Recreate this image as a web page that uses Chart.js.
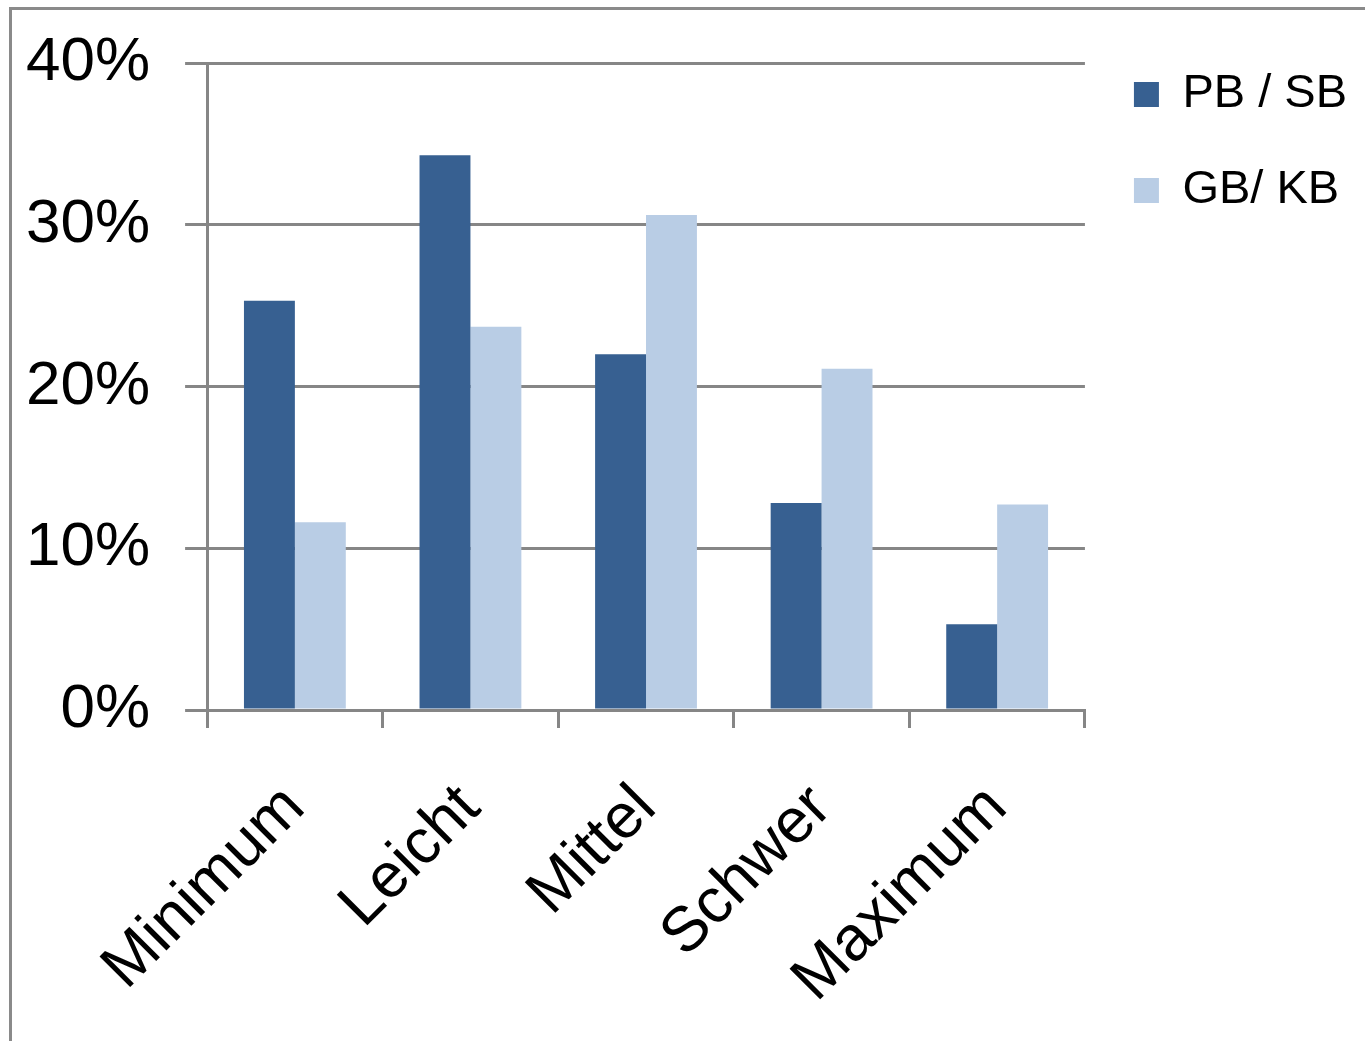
<!DOCTYPE html>
<html>
<head>
<meta charset="utf-8">
<script src="https://cdn.jsdelivr.net/npm/chart.js@4/dist/chart.umd.min.js"></script>
<style>
    html, body { margin: 0; padding: 0; background: #fff; overflow: hidden; }
    #frame {
        position: absolute; left: 9px; top: 7px; width: 2000px; height: 2000px;
        border-top: 3px solid #8a8a8a; border-left: 3px solid #8a8a8a;
    }
    #chart { position: absolute; left: 0; top: 0; }
</style>
</head>
<body>
<div id="frame"></div>
<canvas id="chart" width="1365" height="1041"></canvas>
<script>
// Categories and series (percent)
const categories = ['Minimum', 'Leicht', 'Mittel', 'Schwer', 'Maximum'];
const pbSb = [25.3, 34.3, 22.0, 12.8, 5.3];
const gbKb = [11.6, 23.7, 30.6, 21.1, 12.7];
const seriesNames = ['PB / SB', 'GB/ KB'];
const yTicks = [0, 10, 20, 30, 40];

const axisGray = '#868686';

Chart.defaults.font.family = '"Liberation Sans", Arial, sans-serif';
Chart.defaults.color = '#000';

const ctx = document.getElementById('chart').getContext('2d');

const chart = new Chart(ctx, {
    type: 'bar',
    data: {
        labels: categories,
        datasets: [
            {
                label: seriesNames[0],
                data: pbSb,
                backgroundColor: '#376091',
                borderWidth: 0
            },
            {
                label: seriesNames[1],
                data: gbKb,
                backgroundColor: '#b9cde5',
                borderWidth: 0
            }
        ]
    },
    options: {
        responsive: false,
        animation: false,
        categoryPercentage: 0.58,
        barPercentage: 1.0,
        layout: {
            // left is negative: the rotated x labels already reserve the space
            padding: { top: 22, left: -9, right: 8, bottom: 0 }
        },
        plugins: {
            legend: {
                position: 'right',
                align: 'start',
                labels: {
                    boxWidth: 25,
                    boxHeight: 25,
                    padding: 49,
                    color: '#000',
                    font: { size: 47 }
                }
            },
            tooltip: { enabled: false }
        },
        scales: {
            x: {
                afterFit: (scale) => {
                    scale.paddingLeft = 0;
                    scale.paddingRight = 0;
                    scale.height = 331;
                },
                grid: {
                    offset: true,
                    drawOnChartArea: false,
                    drawTicks: true,
                    tickLength: 18,
                    color: axisGray,
                    lineWidth: 3
                },
                border: { color: axisGray, width: 3 },
                ticks: {
                    minRotation: 45,
                    maxRotation: 45,
                    padding: 43,
                    color: '#000',
                    font: { size: 63 }
                }
            },
            y: {
                min: 0,
                max: 40,
                afterFit: (scale) => {
                    // keep the plot top where the reference has it
                    scale.paddingTop = 63;
                    scale.paddingBottom = 0;
                },
                afterBuildTicks: (scale) => {
                    scale.ticks = yTicks.map(v => ({ value: v }));
                },
                grid: {
                    color: axisGray,
                    lineWidth: 3,
                    tickLength: 22
                },
                border: { color: axisGray, width: 3 },
                ticks: {
                    autoSkip: false,
                    padding: 35,
                    color: '#000',
                    font: { size: 62 },
                    callback: (value) => value + '%'
                }
            }
        }
    }
});
</script>
</body>
</html>
